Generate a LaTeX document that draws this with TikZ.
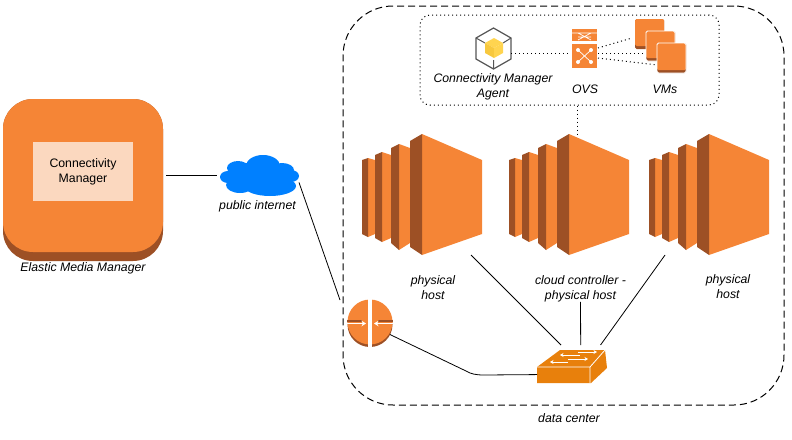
\documentclass[tikz,border=0pt]{standalone}
\usepackage{fontspec}
\setmainfont{Liberation Sans}
\usepackage{xcolor}
\usetikzlibrary{arrows.meta,positioning,calc}
\definecolor{awsorange}{HTML}{F58536}
\definecolor{awsdark}{HTML}{9D5025}
\definecolor{awslight}{HTML}{FBD8BF}
\definecolor{switchorange}{HTML}{E8800C}
\definecolor{cloudblue}{HTML}{0080FF}
\definecolor{cubeyellow}{HTML}{FFD44F}
\definecolor{cubeshade}{HTML}{F7C83E}
\definecolor{cubegray}{HTML}{555555}
\newcommand{\hostslab}[7]{% left, fold, right, side top, fold top, side bottom, fold bottom
  \fill[awsorange] (#2,#5) -- (#3,#4) -- (#3,#6) -- (#2,#7) -- cycle;
  \fill[awsdark] (#1,#4) -- (#2,#5) -- (#2,#7) -- (#1,#6) -- cycle;
}
\newcommand{\vmsquare}[2]{%
  \fill[awsdark, rounded corners=1.5pt] (#1,#2) rectangle ++(29,30);
  \fill[awsorange, rounded corners=1.5pt] (#1,#2) rectangle ++(29,27);
}
\begin{document}
\begin{tikzpicture}[x=1pt,y=-1pt,
  iconbox/.style={minimum width=#1, inner sep=0pt, outer sep=0pt},
  caption/.style={font=\fontsize{12.3}{15}\selectfont\itshape, align=center, inner sep=0pt},
  plain/.style={font=\fontsize{12.3}{15}\selectfont, align=center, inner sep=0pt},
  link/.style={black, line width=0.8pt},
  dotlink/.style={black, line width=1pt, dash pattern=on 1pt off 3pt},
  whitearrow/.style={white, line width=1.4pt, -{Stealth[length=4.5pt,width=5.5pt]}},
  switcharrow/.style={white, line width=0.9pt, -{Stealth[length=3.5pt,width=4pt]}},
  whitetwo/.style={white, line width=0.8pt, {Stealth[length=2.5pt,width=3pt]}-{Stealth[length=2.5pt,width=3pt]}}
]
\useasboundingbox (0,0) rectangle (792,439);

% left block
\fill[awsdark, rounded corners=30pt] (3,99) rectangle (163,261);
\node[fill=awsorange, rounded corners=30pt, minimum width=160pt, minimum height=153pt, inner sep=0pt, outer sep=3pt] (emm) at (83,175.5) {};
\node[fill=awslight, plain, minimum width=100pt, minimum height=59pt] (cm) at (83,171.5) {Connectivity\\Manager};
\node[caption] (emmlabel) at (83,268) {Elastic Media Manager};

% internet
\fill[cloudblue] (258,176) ellipse (30pt and 14pt);
\fill[cloudblue] (238,168) ellipse (11pt and 7pt);
\fill[cloudblue] (263,166) ellipse (17pt and 11pt);
\fill[cloudblue] (282,170) ellipse (12pt and 7pt);
\fill[cloudblue] (228,177) ellipse (8pt and 6pt);
\fill[cloudblue] (291,176) ellipse (8pt and 6pt);
\fill[cloudblue] (240,185) ellipse (14pt and 8pt);
\fill[cloudblue] (270,186) ellipse (26pt and 10pt);
\node[iconbox=79pt, minimum height=41pt] (internet) at (259.5,175.5) {};
\node[caption, below=4.5pt of internet, xshift=-2pt] (internetlabel) {public internet};

% data center
\node[draw, line width=1pt, dash pattern=on 7pt off 4pt, rounded corners=50pt, minimum width=441pt, minimum height=399pt, inner sep=0pt] (datacenter) at (563.5,205.5) {};
\node[caption] (datacenterlabel) at (569,418) {data center};
\node[draw, line width=1pt, dash pattern=on 1pt off 3pt, rounded corners=10pt, minimum width=299pt, minimum height=90pt, inner sep=0pt] (hostdetail) at (569.5,60) {};

% hosts
\foreach \name/\dx in {host1/0,host2/147,host3/287}{
  \begin{scope}[xshift=\dx pt]
    \hostslab{362}{368}{375}{160}{158}{234}{237}
    \hostslab{375}{382}{391}{155}{152}{238}{242}
    \hostslab{391}{399}{410}{148}{144}{243}{250}
    \fill[awsorange] (422,134) -- (482,160) -- (482,234) -- (422,255) -- cycle;
    \fill[awsdark] (410,141) -- (422,134) -- (422,255) -- (410,247) -- cycle;
    \node[iconbox=120pt, minimum height=121pt] (\name) at (422,194.5) {};
  \end{scope}
}
\node[caption] (host1label) at (433,287.5) {physical\\host};
\node[caption] (host2label) at (580.5,288.5) {cloud controller -\\physical host};
\node[caption] (host3label) at (728,286.5) {physical\\host};

% agent
\node[iconbox=35pt, minimum height=41pt] (agent) at (493.5,48.5) {};
\draw[cubegray, line width=1.2pt] (493.5,28) -- (511,38) -- (511,59) -- (493.5,69) -- (476,59) -- (476,38) -- cycle;
\draw[cubegray, line width=1pt] (476,38) -- (485,43) (511,38) -- (503,43) (493.5,69) -- (493.5,60);
\fill[cubeyellow] (485,43) -- (494,38) -- (503,43) -- (494,48) -- cycle;
\fill[cubeshade] (485,43) -- (494,48) -- (494,58) -- (485,53) -- cycle;
\fill[cubeyellow] (503,43) -- (494,48) -- (494,58) -- (503,53) -- cycle;
\node[caption] (agentlabel) at (493,86.5) {Connectivity Manager\\Agent};

% ovs
\fill[awsorange] (572,29) rectangle (597,41);
\draw[white, line width=0.7pt] (572,33) -- (597,33) (578,33) -- (591,40) (591,33) -- (578,40) (578,37) -- (591,37);
\fill[awsorange] (572,44) rectangle (597,68);
\draw[white, line width=0.7pt] (578,50) -- (591,62) (591,50) -- (578,62);
\foreach \cx/\cy in {578/50,591/50,578/62,591/62}{
  \fill[white] (\cx,\cy) circle (2pt);
}
\node[iconbox=27pt, minimum height=39pt] (ovs) at (584.5,48.5) {};
\node[caption] (ovslabel) at (585,89) {OVS};

% vms
\vmsquare{635}{19}
\vmsquare{646}{31}
\draw[white, line width=0.8pt, rounded corners=1.5pt] (646,31) rectangle ++(29,30);
\vmsquare{657}{43}
\draw[white, line width=0.8pt, rounded corners=1.5pt] (657,43) rectangle ++(29,30);
\coordinate (vmsa) at (632,38);
\coordinate (vmsb) at (646,53);
\coordinate (vmsc) at (657,65);
\node[caption] (vmslabel) at (665,89) {VMs};

% router
\fill[awsdark] (370,324.5) circle (22.5pt);
\fill[awsorange] (370,322) circle (22.5pt);
\fill[white] (367.8,298) rectangle (371.8,348);
\node[circle, minimum size=46pt, inner sep=0pt, outer sep=0pt] (router) at (370,323) {};
\fill[awsdark] (347,320) rectangle (362,322);
\fill[awsdark] (378,320) rectangle (393,322);
\draw[whitearrow] (347,323.5) -- (366,323.5);
\draw[whitearrow] (393,323.5) -- (374,323.5);
\draw[whitetwo] (369.8,301) -- (369.8,308);
\draw[whitetwo] (369.8,337) -- (369.8,344);
\coordinate (routerin) at (340,300);

% switch
\fill[switchorange] (537,367) -- (560,350) -- (605,350) -- (607,368) -- (591,383) -- (537,383) -- cycle;
\draw[white, line width=0.8pt] (537,367) -- (590,367) -- (605,350) (590,367) -- (590,383);
\draw[switcharrow] (578,352) -- (597,352);
\draw[switcharrow] (580,355) -- (560,355);
\draw[switcharrow] (568,359) -- (588,359);
\draw[switcharrow] (568,362) -- (550,362);
\node[iconbox=70pt, minimum height=43pt] (switch) at (572,366.5) {};

% links
\draw[link, shorten >=3pt] (emm) -- (internet);
\draw[link] (internet.-10.7) -- (routerin);
\draw[link] (host1.-51) -- (switch.117);
\draw[link] (host2label.south) -- (switch.68.4);
\draw[link] (host3.-126.6) -- (switch.37.5);
\draw[link] (router.-30) -- (466,371) .. controls (471,374) and (476,375) .. (484,375) -- (switch.-167);
\draw[dotlink] (agent.east |- 0,53) -- (ovs.west |- 0,53);
\draw[dotlink] (ovs.east |- 0,48) -- (vmsa);
\draw[dotlink] (ovs.east |- 0,53) -- (vmsb);
\draw[dotlink] (ovs.east |- 0,58) -- (vmsc);
\draw[dotlink] (hostdetail.south -| 577,0) -- (host2.north -| 577,0);
\end{tikzpicture}
\end{document}
